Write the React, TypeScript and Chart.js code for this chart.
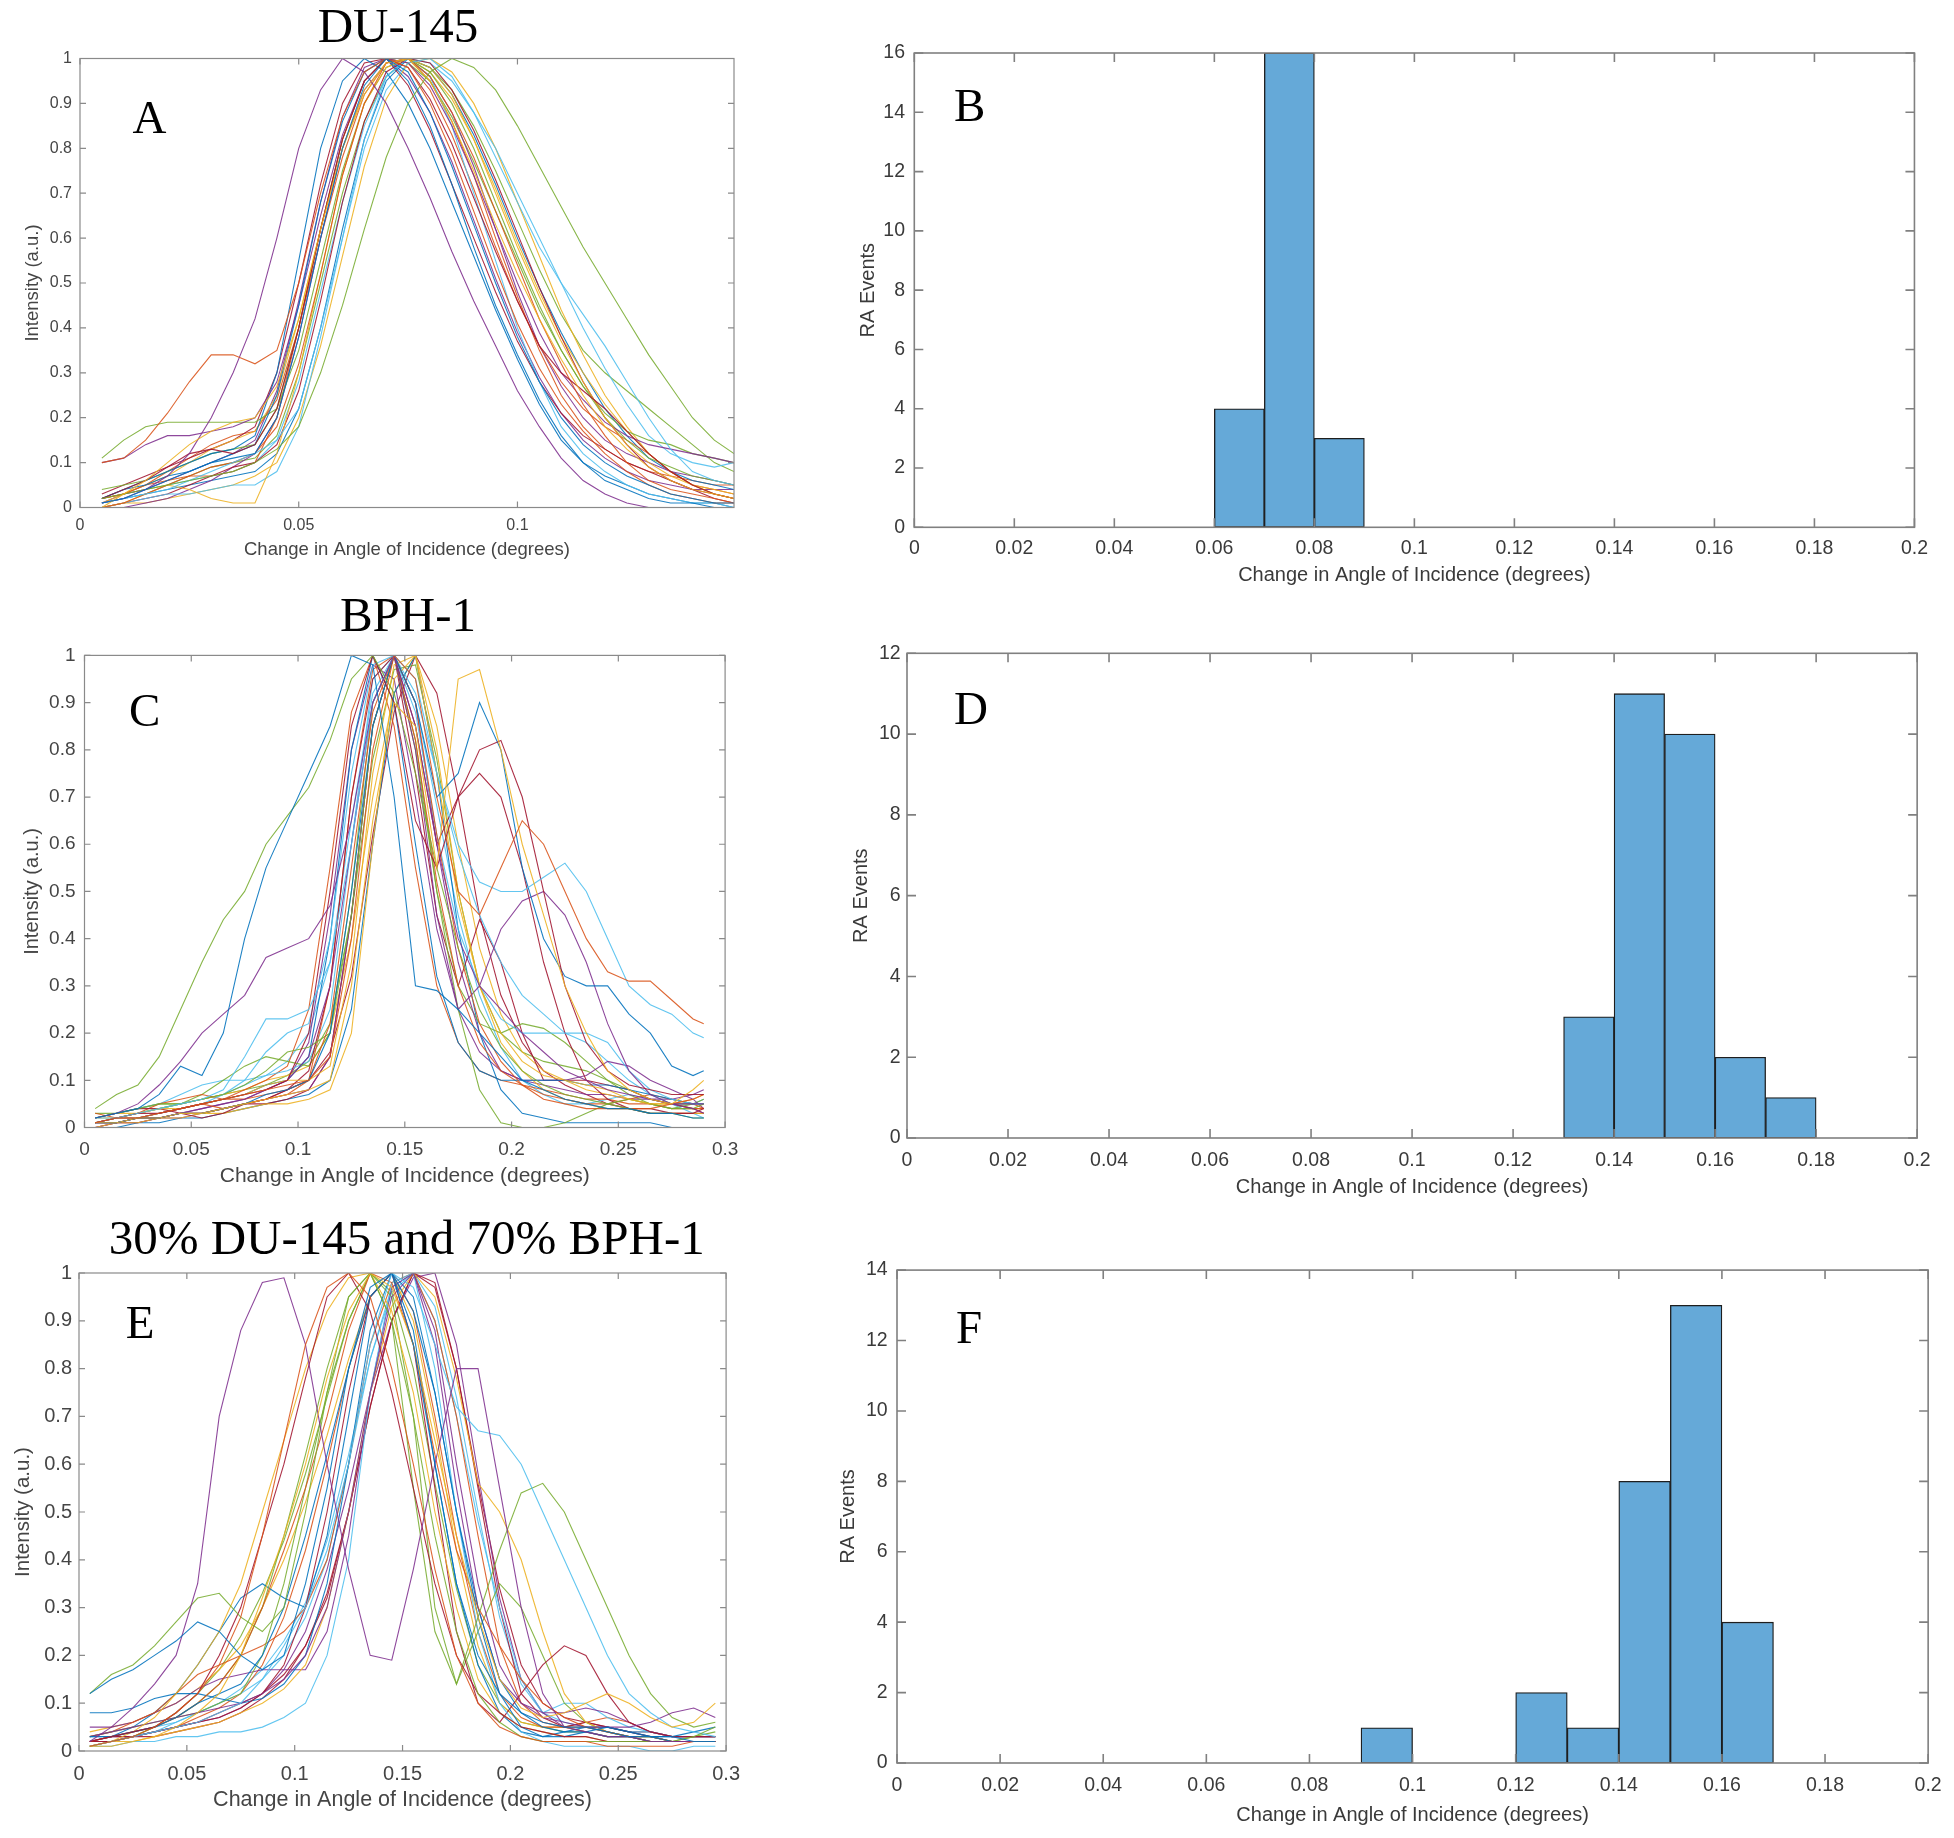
import React, { useEffect, useRef } from 'react';
import { Chart, registerables } from 'chart.js';

Chart.register(...registerables);

const FONT = "'Liberation Sans', Arial, Helvetica, sans-serif";
const SERIF = "'Liberation Serif', 'Times New Roman', serif";
const MATLAB_COLORS = ['#0072BD', '#D95319', '#EDB120', '#7E2F8E', '#77AC30', '#4DBEEE', '#A2142F'];
const X_LABEL = 'Change in Angle of Incidence (degrees)';

// ---------------- Panel A (DU-145) ----------------
const duX = [0.005, 0.01, 0.015, 0.02, 0.025, 0.03, 0.035, 0.04, 0.045, 0.05, 0.055, 0.06, 0.065, 0.07, 0.075, 0.08, 0.085, 0.09, 0.095, 0.1, 0.105, 0.11, 0.115, 0.12, 0.125, 0.13, 0.135, 0.14, 0.145, 0.1495];
const duCurves: number[][] = [
  [0.01, 0.02, 0.04, 0.06, 0.08, 0.1, 0.11, 0.12, 0.2, 0.38, 0.6, 0.8, 0.94, 1.0, 0.97, 0.88, 0.76, 0.63, 0.5, 0.38, 0.28, 0.2, 0.14, 0.1, 0.07, 0.05, 0.03, 0.02, 0.01, 0.01],
  [0.1, 0.11, 0.15, 0.21, 0.28, 0.34, 0.34, 0.32, 0.35, 0.5, 0.7, 0.87, 0.97, 1.0, 0.98, 0.9, 0.79, 0.66, 0.53, 0.41, 0.31, 0.23, 0.17, 0.12, 0.08, 0.05, 0.03, 0.02, 0.01, 0.01],
  [0.0, 0.03, 0.06, 0.1, 0.14, 0.17, 0.19, 0.2, 0.27, 0.42, 0.62, 0.8, 0.93, 0.99, 1.0, 0.95, 0.86, 0.75, 0.63, 0.52, 0.42, 0.33, 0.25, 0.18, 0.13, 0.09, 0.06, 0.04, 0.03, 0.02],
  [0.01, 0.02, 0.04, 0.07, 0.12, 0.2, 0.3, 0.42, 0.6, 0.8, 0.93, 1.0, 0.97, 0.9, 0.8, 0.69, 0.57, 0.46, 0.36, 0.26, 0.18, 0.11, 0.06, 0.03, 0.01, 0.0, 0.0, 0.0, 0.0, 0.0],
  [0.02, 0.03, 0.04, 0.05, 0.06, 0.07, 0.08, 0.1, 0.13, 0.18, 0.3, 0.45, 0.62, 0.78, 0.9, 0.97, 1.0, 0.98, 0.93, 0.85, 0.76, 0.67, 0.58, 0.5, 0.42, 0.34, 0.27, 0.2, 0.15, 0.12],
  [0.01, 0.02, 0.03, 0.04, 0.06, 0.08, 0.1, 0.12, 0.15, 0.22, 0.4, 0.6, 0.8, 0.93, 0.99, 1.0, 0.96, 0.88, 0.78, 0.68, 0.58, 0.5, 0.43, 0.36, 0.28, 0.2, 0.13, 0.08, 0.06, 0.05],
  [0.02, 0.04, 0.06, 0.09, 0.12, 0.13, 0.12, 0.14, 0.22, 0.4, 0.62, 0.82, 0.95, 1.0, 0.98, 0.91, 0.81, 0.69, 0.57, 0.46, 0.36, 0.3, 0.26, 0.22, 0.17, 0.12, 0.08, 0.05, 0.03, 0.02],
  [0.02, 0.04, 0.05, 0.07, 0.08, 0.1, 0.12, 0.14, 0.25, 0.45, 0.68, 0.86, 0.97, 1.0, 0.95, 0.85, 0.72, 0.58, 0.45, 0.34, 0.24, 0.16, 0.1, 0.06, 0.04, 0.02, 0.01, 0.01, 0.0, 0.0],
  [0.0, 0.01, 0.03, 0.05, 0.07, 0.09, 0.1, 0.12, 0.18, 0.32, 0.52, 0.74, 0.9, 0.99, 1.0, 0.96, 0.88, 0.78, 0.66, 0.54, 0.42, 0.32, 0.23, 0.16, 0.1, 0.06, 0.04, 0.03, 0.02, 0.01],
  [0.0, 0.01, 0.03, 0.05, 0.04, 0.02, 0.01, 0.01, 0.12, 0.3, 0.52, 0.74, 0.9, 0.98, 1.0, 0.98, 0.92, 0.82, 0.7, 0.58, 0.47, 0.37, 0.28, 0.2, 0.14, 0.1, 0.07, 0.05, 0.04, 0.03],
  [0.1, 0.11, 0.14, 0.16, 0.16, 0.17, 0.18, 0.2, 0.28, 0.45, 0.65, 0.83, 0.95, 1.0, 0.99, 0.94, 0.85, 0.74, 0.62, 0.5, 0.39, 0.3, 0.24, 0.19, 0.16, 0.14, 0.13, 0.12, 0.11, 0.1],
  [0.11, 0.15, 0.18, 0.19, 0.19, 0.19, 0.19, 0.19, 0.22, 0.35, 0.55, 0.75, 0.9, 0.98, 1.0, 0.97, 0.9, 0.8, 0.68, 0.56, 0.45, 0.35, 0.27, 0.2, 0.15, 0.11, 0.09, 0.07, 0.06, 0.05],
  [0.0, 0.01, 0.02, 0.03, 0.03, 0.04, 0.05, 0.05, 0.08, 0.18, 0.38, 0.6, 0.82, 0.96, 1.0, 0.96, 0.85, 0.7, 0.55, 0.4, 0.28, 0.18, 0.12, 0.08, 0.05, 0.03, 0.02, 0.01, 0.01, 0.0],
  [0.0, 0.01, 0.02, 0.03, 0.05, 0.07, 0.09, 0.1, 0.14, 0.26, 0.46, 0.68, 0.86, 0.97, 1.0, 0.99, 0.93, 0.84, 0.73, 0.61, 0.49, 0.38, 0.28, 0.2, 0.14, 0.09, 0.06, 0.04, 0.02, 0.01],
  [0.02, 0.04, 0.06, 0.08, 0.1, 0.12, 0.13, 0.16, 0.3, 0.55, 0.8, 0.95, 1.0, 0.97, 0.9, 0.8, 0.68, 0.56, 0.44, 0.33, 0.23, 0.15, 0.1, 0.07, 0.05, 0.03, 0.02, 0.01, 0.01, 0.0],
  [0.02, 0.03, 0.05, 0.06, 0.07, 0.07, 0.08, 0.1, 0.2, 0.4, 0.62, 0.82, 0.95, 1.0, 0.99, 0.93, 0.83, 0.71, 0.58, 0.46, 0.36, 0.28, 0.22, 0.18, 0.15, 0.12, 0.08, 0.05, 0.04, 0.03],
  [0.01, 0.03, 0.05, 0.07, 0.1, 0.13, 0.15, 0.17, 0.25, 0.42, 0.62, 0.8, 0.92, 0.99, 1.0, 0.97, 0.91, 0.82, 0.71, 0.59, 0.48, 0.38, 0.3, 0.23, 0.17, 0.12, 0.08, 0.05, 0.03, 0.02],
  [0.0, 0.0, 0.01, 0.02, 0.04, 0.06, 0.09, 0.12, 0.2, 0.38, 0.6, 0.8, 0.93, 0.99, 1.0, 0.96, 0.88, 0.76, 0.62, 0.48, 0.36, 0.27, 0.2, 0.15, 0.12, 0.1, 0.08, 0.07, 0.06, 0.05],
  [0.04, 0.05, 0.06, 0.08, 0.1, 0.12, 0.13, 0.14, 0.22, 0.4, 0.62, 0.82, 0.95, 1.0, 0.99, 0.95, 0.87, 0.77, 0.66, 0.55, 0.44, 0.35, 0.27, 0.21, 0.17, 0.15, 0.14, 0.12, 0.11, 0.1],
  [0.01, 0.02, 0.03, 0.05, 0.06, 0.07, 0.08, 0.1, 0.15, 0.28, 0.48, 0.68, 0.85, 0.96, 1.0, 0.99, 0.95, 0.88, 0.8, 0.7, 0.6, 0.5, 0.4, 0.31, 0.23, 0.16, 0.12, 0.1, 0.09, 0.1],
  [0.03, 0.05, 0.07, 0.09, 0.11, 0.13, 0.15, 0.18, 0.3, 0.5, 0.72, 0.9, 0.99, 1.0, 0.94, 0.84, 0.72, 0.6, 0.48, 0.37, 0.28, 0.21, 0.16, 0.13, 0.1, 0.08, 0.06, 0.04, 0.03, 0.02],
  [0.01, 0.02, 0.03, 0.04, 0.05, 0.06, 0.07, 0.08, 0.12, 0.22, 0.4, 0.62, 0.82, 0.95, 1.0, 0.98, 0.92, 0.83, 0.72, 0.6, 0.49, 0.39, 0.3, 0.22, 0.16, 0.11, 0.08, 0.06, 0.05, 0.04],
  [0.02, 0.03, 0.05, 0.08, 0.11, 0.14, 0.16, 0.17, 0.24, 0.4, 0.6, 0.78, 0.92, 0.99, 1.0, 0.95, 0.86, 0.74, 0.6, 0.47, 0.35, 0.25, 0.18, 0.13, 0.1, 0.08, 0.07, 0.06, 0.05, 0.05],
  [0.0, 0.01, 0.01, 0.02, 0.03, 0.04, 0.05, 0.07, 0.1, 0.2, 0.36, 0.56, 0.76, 0.91, 0.99, 1.0, 0.97, 0.9, 0.8, 0.68, 0.56, 0.44, 0.34, 0.25, 0.18, 0.12, 0.08, 0.05, 0.03, 0.02],
  [0.01, 0.03, 0.04, 0.06, 0.08, 0.1, 0.12, 0.15, 0.26, 0.46, 0.68, 0.87, 0.98, 1.0, 0.96, 0.88, 0.77, 0.64, 0.51, 0.39, 0.29, 0.21, 0.15, 0.11, 0.08, 0.06, 0.05, 0.04, 0.04, 0.04],
  [0.02, 0.03, 0.04, 0.05, 0.07, 0.09, 0.1, 0.11, 0.16, 0.3, 0.5, 0.7, 0.86, 0.96, 1.0, 0.98, 0.93, 0.85, 0.75, 0.64, 0.53, 0.43, 0.35, 0.3, 0.26, 0.22, 0.18, 0.14, 0.1, 0.08],
];

// ---------------- Panel C (BPH-1) ----------------
const bphX = [0.005, 0.015, 0.025, 0.035, 0.045, 0.055, 0.065, 0.075, 0.085, 0.095, 0.105, 0.115, 0.125, 0.135, 0.145, 0.155, 0.165, 0.175, 0.185, 0.195, 0.205, 0.215, 0.225, 0.235, 0.245, 0.255, 0.265, 0.275, 0.285, 0.29];
const bphCurves: number[][] = [
  [0.02, 0.03, 0.04, 0.07, 0.13, 0.11, 0.2, 0.4, 0.55, 0.65, 0.75, 0.85, 1.0, 0.98, 0.7, 0.3, 0.29, 0.25, 0.2, 0.15, 0.1, 0.08, 0.06, 0.05, 0.04, 0.04, 0.03, 0.03, 0.02, 0.02],
  [0.01, 0.02, 0.02, 0.03, 0.04, 0.05, 0.06, 0.07, 0.08, 0.09, 0.1, 0.15, 0.4, 0.8, 1.0, 0.95, 0.7, 0.5, 0.45, 0.55, 0.65, 0.6, 0.5, 0.4, 0.33, 0.31, 0.31, 0.27, 0.23, 0.22],
  [0.01, 0.01, 0.02, 0.02, 0.03, 0.03, 0.04, 0.05, 0.06, 0.07, 0.08, 0.1, 0.3, 0.65, 0.9, 0.85, 0.55, 0.95, 0.97, 0.8, 0.6, 0.45, 0.3, 0.2, 0.12, 0.08, 0.06, 0.05, 0.08, 0.1],
  [0.02, 0.03, 0.05, 0.09, 0.14, 0.2, 0.24, 0.28, 0.36, 0.38, 0.4, 0.47, 0.65, 0.9, 1.0, 0.85, 0.6, 0.4, 0.3, 0.25, 0.2, 0.16, 0.12, 0.1, 0.08, 0.07, 0.06, 0.05, 0.05, 0.05],
  [0.04, 0.07, 0.09, 0.15, 0.25, 0.35, 0.44, 0.5, 0.6, 0.66, 0.72, 0.82, 0.95, 1.0, 0.92, 0.75, 0.55, 0.38, 0.25, 0.17, 0.12, 0.09, 0.07, 0.06, 0.05, 0.04, 0.03, 0.03, 0.02, 0.02],
  [0.02, 0.02, 0.03, 0.04, 0.05, 0.06, 0.08, 0.15, 0.23, 0.23, 0.25, 0.35, 0.6, 0.9, 1.0, 0.95, 0.75, 0.6, 0.52, 0.5, 0.5, 0.53, 0.56, 0.5, 0.4, 0.3, 0.26, 0.24, 0.2, 0.19],
  [0.01, 0.02, 0.03, 0.03, 0.04, 0.05, 0.06, 0.07, 0.08, 0.1, 0.2, 0.5, 0.85, 1.0, 0.9, 0.65, 0.55, 0.7, 0.8, 0.82, 0.7, 0.5, 0.3, 0.18, 0.12, 0.09, 0.08, 0.07, 0.07, 0.07],
  [0.01, 0.01, 0.02, 0.02, 0.03, 0.03, 0.04, 0.05, 0.07, 0.08, 0.1, 0.2, 0.5, 0.85, 1.0, 0.9, 0.7, 0.75, 0.9, 0.8, 0.55, 0.4, 0.32, 0.3, 0.3, 0.24, 0.2, 0.13, 0.11, 0.12],
  [0.03, 0.02, 0.02, 0.03, 0.04, 0.05, 0.04, 0.05, 0.06, 0.07, 0.1, 0.22, 0.55, 0.88, 1.0, 0.9, 0.62, 0.38, 0.22, 0.14, 0.09, 0.06, 0.05, 0.04, 0.04, 0.04, 0.04, 0.05, 0.06, 0.07],
  [0.02, 0.02, 0.03, 0.04, 0.04, 0.05, 0.06, 0.07, 0.09, 0.1, 0.1, 0.13, 0.35, 0.75, 0.98, 1.0, 0.75, 0.48, 0.3, 0.2, 0.14, 0.11, 0.1, 0.09, 0.08, 0.06, 0.05, 0.05, 0.06, 0.07],
  [0.01, 0.01, 0.02, 0.02, 0.03, 0.04, 0.05, 0.06, 0.08, 0.1, 0.15, 0.3, 0.6, 0.9, 1.0, 0.8, 0.45, 0.25, 0.3, 0.42, 0.48, 0.5, 0.45, 0.35, 0.22, 0.12, 0.07, 0.05, 0.04, 0.03],
  [0.02, 0.03, 0.04, 0.05, 0.05, 0.06, 0.07, 0.09, 0.12, 0.16, 0.17, 0.2, 0.45, 0.85, 1.0, 0.8, 0.5, 0.25, 0.08, 0.01, 0.0, 0.0, 0.01, 0.03, 0.05, 0.06, 0.05, 0.04, 0.04, 0.05],
  [0.01, 0.02, 0.02, 0.03, 0.04, 0.05, 0.07, 0.1, 0.16, 0.2, 0.22, 0.4, 0.75, 0.98, 1.0, 0.88, 0.62, 0.42, 0.3, 0.23, 0.2, 0.2, 0.2, 0.2, 0.18, 0.12, 0.08, 0.06, 0.05, 0.05],
  [0.02, 0.03, 0.04, 0.04, 0.03, 0.02, 0.03, 0.05, 0.06, 0.08, 0.12, 0.3, 0.7, 0.95, 1.0, 0.85, 0.6, 0.7, 0.75, 0.7, 0.55, 0.35, 0.2, 0.1, 0.06, 0.04, 0.03, 0.03, 0.03, 0.04],
  [0.01, 0.01, 0.02, 0.03, 0.04, 0.05, 0.06, 0.07, 0.09, 0.1, 0.15, 0.4, 0.8, 1.0, 0.9, 0.6, 0.32, 0.18, 0.12, 0.1, 0.1, 0.1, 0.1, 0.09, 0.09, 0.08, 0.07, 0.06, 0.05, 0.05],
  [0.01, 0.02, 0.03, 0.05, 0.06, 0.07, 0.06, 0.06, 0.07, 0.08, 0.1, 0.3, 0.7, 0.97, 1.0, 0.82, 0.52, 0.3, 0.18, 0.12, 0.09, 0.07, 0.06, 0.05, 0.05, 0.06, 0.07, 0.06, 0.05, 0.04],
  [0.0, 0.01, 0.01, 0.02, 0.02, 0.03, 0.03, 0.04, 0.05, 0.05, 0.06, 0.08, 0.2, 0.6, 0.95, 1.0, 0.8, 0.5, 0.3, 0.18, 0.12, 0.08, 0.06, 0.05, 0.04, 0.04, 0.03, 0.03, 0.03, 0.03],
  [0.0, 0.01, 0.01, 0.02, 0.02, 0.03, 0.04, 0.05, 0.06, 0.07, 0.08, 0.15, 0.45, 0.85, 1.0, 0.9, 0.6, 0.35, 0.2, 0.12, 0.1, 0.1, 0.1, 0.11, 0.14, 0.13, 0.1, 0.08, 0.06, 0.04],
  [0.01, 0.02, 0.03, 0.04, 0.05, 0.07, 0.1, 0.13, 0.15, 0.14, 0.13, 0.2, 0.5, 0.9, 1.0, 0.82, 0.5, 0.3, 0.22, 0.2, 0.22, 0.21, 0.18, 0.14, 0.1, 0.07, 0.05, 0.04, 0.05, 0.06],
  [0.02, 0.03, 0.04, 0.05, 0.07, 0.09, 0.1, 0.1, 0.11, 0.12, 0.14, 0.25, 0.6, 0.95, 1.0, 0.92, 0.75, 0.58, 0.45, 0.35, 0.28, 0.24, 0.2, 0.18, 0.14, 0.1, 0.07, 0.05, 0.03, 0.02],
  [0.01, 0.01, 0.02, 0.02, 0.03, 0.03, 0.04, 0.05, 0.05, 0.06, 0.08, 0.15, 0.45, 0.85, 1.0, 0.75, 0.45, 0.3, 0.44, 0.35, 0.2, 0.1, 0.1, 0.1, 0.09, 0.08, 0.06, 0.05, 0.04, 0.03],
  [0.0, 0.0, 0.01, 0.01, 0.02, 0.02, 0.03, 0.04, 0.05, 0.06, 0.07, 0.1, 0.25, 0.6, 0.92, 1.0, 0.75, 0.42, 0.2, 0.08, 0.03, 0.02, 0.01, 0.01, 0.01, 0.01, 0.01, 0.0, 0.0, 0.0],
  [0.01, 0.02, 0.02, 0.03, 0.04, 0.05, 0.06, 0.08, 0.1, 0.13, 0.25, 0.55, 0.88, 1.0, 0.85, 0.55, 0.3, 0.18, 0.12, 0.1, 0.09, 0.08, 0.07, 0.06, 0.06, 0.05, 0.05, 0.04, 0.04, 0.04],
  [0.02, 0.03, 0.03, 0.04, 0.05, 0.06, 0.07, 0.08, 0.1, 0.11, 0.13, 0.2, 0.4, 0.7, 0.92, 1.0, 0.85, 0.6, 0.38, 0.24, 0.16, 0.12, 0.1, 0.08, 0.07, 0.06, 0.05, 0.05, 0.04, 0.04],
  [0.01, 0.01, 0.02, 0.02, 0.03, 0.04, 0.05, 0.06, 0.08, 0.1, 0.18, 0.45, 0.8, 0.98, 0.95, 0.7, 0.42, 0.25, 0.16, 0.12, 0.1, 0.09, 0.08, 0.07, 0.07, 0.06, 0.06, 0.06, 0.07, 0.08],
  [0.03, 0.03, 0.04, 0.05, 0.05, 0.06, 0.07, 0.08, 0.09, 0.11, 0.14, 0.22, 0.45, 0.78, 0.97, 0.98, 0.78, 0.5, 0.3, 0.2, 0.16, 0.14, 0.13, 0.12, 0.1, 0.08, 0.06, 0.05, 0.05, 0.05],
  [0.01, 0.02, 0.03, 0.04, 0.05, 0.06, 0.07, 0.09, 0.11, 0.14, 0.2, 0.35, 0.65, 0.92, 1.0, 0.9, 0.68, 0.45, 0.28, 0.17, 0.1, 0.07, 0.05, 0.05, 0.06, 0.07, 0.06, 0.05, 0.05, 0.06],
  [0.0, 0.01, 0.01, 0.02, 0.03, 0.03, 0.04, 0.05, 0.06, 0.08, 0.1, 0.16, 0.32, 0.62, 0.88, 1.0, 0.92, 0.7, 0.45, 0.28, 0.18, 0.12, 0.09, 0.07, 0.05, 0.04, 0.04, 0.03, 0.03, 0.03],
];

// ---------------- Panel E (30% DU-145 / 70% BPH-1) ----------------
const mixX = [0.005, 0.015, 0.025, 0.035, 0.045, 0.055, 0.065, 0.075, 0.085, 0.095, 0.105, 0.115, 0.125, 0.135, 0.145, 0.155, 0.165, 0.175, 0.185, 0.195, 0.205, 0.215, 0.225, 0.235, 0.245, 0.255, 0.265, 0.275, 0.285, 0.295];
const mixCurves: number[][] = [
  [0.12, 0.15, 0.17, 0.2, 0.23, 0.27, 0.25, 0.2, 0.17, 0.2, 0.35, 0.55, 0.8, 0.97, 1.0, 0.85, 0.6, 0.35, 0.2, 0.12, 0.08, 0.06, 0.05, 0.05, 0.04, 0.03, 0.03, 0.03, 0.02, 0.02],
  [0.01, 0.02, 0.03, 0.05, 0.08, 0.12, 0.18, 0.28, 0.45, 0.65, 0.85, 0.97, 1.0, 0.95, 0.8, 0.6, 0.38, 0.2, 0.1, 0.05, 0.03, 0.02, 0.02, 0.02, 0.01, 0.01, 0.01, 0.01, 0.02, 0.02],
  [0.01, 0.01, 0.02, 0.03, 0.05, 0.08, 0.12, 0.2, 0.32, 0.45, 0.6, 0.78, 0.92, 1.0, 0.97, 0.85, 0.65, 0.45, 0.28, 0.15, 0.09, 0.07, 0.08, 0.1, 0.12, 0.1, 0.07, 0.05, 0.06, 0.1],
  [0.02, 0.05, 0.09, 0.14, 0.2, 0.35, 0.7, 0.88, 0.98, 0.99, 0.85, 0.6, 0.38, 0.2, 0.19, 0.38, 0.6, 0.8, 0.8, 0.55, 0.3, 0.12, 0.05, 0.04, 0.03, 0.03, 0.02, 0.02, 0.02, 0.02],
  [0.12, 0.16, 0.18, 0.22, 0.27, 0.32, 0.33, 0.28, 0.25, 0.3, 0.5, 0.75, 0.95, 1.0, 0.9, 0.7, 0.45, 0.25, 0.12, 0.06, 0.03, 0.02, 0.02, 0.02, 0.02, 0.02, 0.02, 0.02, 0.03, 0.05],
  [0.01, 0.02, 0.03, 0.04, 0.05, 0.06, 0.08, 0.1, 0.15, 0.22, 0.3, 0.42, 0.6, 0.85, 1.0, 0.97, 0.85, 0.72, 0.67, 0.66, 0.6, 0.5, 0.4, 0.3, 0.2, 0.12, 0.08, 0.05, 0.04, 0.03],
  [0.02, 0.03, 0.04, 0.05, 0.08, 0.12, 0.2, 0.3, 0.45, 0.6, 0.78, 0.95, 1.0, 0.92, 0.75, 0.55, 0.35, 0.2, 0.12, 0.08, 0.05, 0.04, 0.03, 0.03, 0.02, 0.02, 0.02, 0.02, 0.02, 0.02],
  [0.03, 0.03, 0.04, 0.05, 0.07, 0.1, 0.12, 0.14, 0.2, 0.3, 0.45, 0.62, 0.8, 0.95, 1.0, 0.92, 0.75, 0.5, 0.28, 0.12, 0.05, 0.03, 0.03, 0.04, 0.05, 0.04, 0.03, 0.02, 0.02, 0.02],
  [0.02, 0.03, 0.04, 0.05, 0.07, 0.1, 0.14, 0.2, 0.3, 0.42, 0.55, 0.7, 0.88, 1.0, 0.98, 0.85, 0.62, 0.42, 0.3, 0.22, 0.15, 0.1, 0.07, 0.05, 0.04, 0.03, 0.03, 0.02, 0.02, 0.02],
  [0.01, 0.02, 0.04, 0.07, 0.12, 0.18, 0.25, 0.35, 0.5, 0.65, 0.8, 0.92, 0.99, 1.0, 0.92, 0.75, 0.5, 0.3, 0.15, 0.08, 0.05, 0.04, 0.03, 0.03, 0.02, 0.02, 0.02, 0.02, 0.02, 0.02],
  [0.03, 0.04, 0.05, 0.06, 0.07, 0.08, 0.09, 0.1, 0.12, 0.15, 0.2, 0.3, 0.5, 0.75, 0.95, 1.0, 0.88, 0.6, 0.35, 0.18, 0.1, 0.07, 0.06, 0.05, 0.05, 0.05, 0.06, 0.08, 0.09, 0.07],
  [0.03, 0.04, 0.05, 0.06, 0.07, 0.08, 0.1, 0.12, 0.2, 0.35, 0.55, 0.75, 0.9, 1.0, 0.95, 0.7, 0.3, 0.14, 0.28, 0.42, 0.54, 0.56, 0.5, 0.4, 0.3, 0.2, 0.12, 0.07, 0.05, 0.06],
  [0.01, 0.01, 0.02, 0.02, 0.03, 0.03, 0.04, 0.04, 0.05, 0.07, 0.1, 0.2, 0.4, 0.75, 0.98, 1.0, 0.8, 0.5, 0.25, 0.1, 0.04, 0.02, 0.01, 0.01, 0.01, 0.01, 0.0, 0.0, 0.01, 0.01],
  [0.02, 0.03, 0.03, 0.04, 0.05, 0.06, 0.07, 0.09, 0.12, 0.18, 0.3, 0.5, 0.75, 0.95, 1.0, 0.85, 0.55, 0.25, 0.1, 0.06, 0.12, 0.18, 0.22, 0.2, 0.12, 0.06, 0.04, 0.03, 0.03, 0.03],
  [0.08, 0.08, 0.09, 0.11, 0.12, 0.12, 0.11, 0.1, 0.11, 0.14, 0.2, 0.35, 0.6, 0.88, 1.0, 0.95, 0.75, 0.5, 0.3, 0.15, 0.08, 0.05, 0.04, 0.04, 0.03, 0.03, 0.02, 0.02, 0.02, 0.02],
  [0.03, 0.04, 0.06, 0.08, 0.12, 0.16, 0.18, 0.2, 0.22, 0.25, 0.3, 0.4, 0.6, 0.85, 0.98, 1.0, 0.9, 0.7, 0.45, 0.22, 0.1, 0.06, 0.05, 0.05, 0.04, 0.03, 0.02, 0.02, 0.02, 0.02],
  [0.01, 0.02, 0.02, 0.03, 0.04, 0.05, 0.06, 0.08, 0.1, 0.13, 0.18, 0.3, 0.5, 0.75, 0.93, 1.0, 0.95, 0.78, 0.56, 0.5, 0.4, 0.25, 0.12, 0.06, 0.04, 0.03, 0.02, 0.02, 0.02, 0.02],
  [0.05, 0.05, 0.06, 0.08, 0.1, 0.13, 0.15, 0.16, 0.17, 0.17, 0.17, 0.25, 0.45, 0.75, 0.97, 1.0, 0.85, 0.55, 0.3, 0.15, 0.1, 0.08, 0.08, 0.09, 0.08, 0.06, 0.04, 0.03, 0.03, 0.03],
  [0.01, 0.02, 0.03, 0.05, 0.07, 0.1, 0.14, 0.2, 0.3, 0.45, 0.62, 0.8, 0.95, 1.0, 0.9, 0.55, 0.25, 0.14, 0.25, 0.35, 0.3, 0.2, 0.1, 0.06, 0.04, 0.03, 0.03, 0.02, 0.03, 0.04],
  [0.01, 0.02, 0.03, 0.04, 0.06, 0.08, 0.1, 0.12, 0.15, 0.2, 0.28, 0.4, 0.6, 0.82, 0.97, 1.0, 0.9, 0.7, 0.48, 0.3, 0.15, 0.08, 0.1, 0.1, 0.07, 0.05, 0.04, 0.03, 0.03, 0.03],
  [0.02, 0.02, 0.03, 0.04, 0.05, 0.06, 0.08, 0.1, 0.12, 0.16, 0.22, 0.32, 0.5, 0.72, 0.9, 1.0, 0.98, 0.8, 0.55, 0.3, 0.12, 0.07, 0.05, 0.06, 0.05, 0.04, 0.03, 0.02, 0.02, 0.02],
  [0.02, 0.03, 0.05, 0.08, 0.12, 0.18, 0.25, 0.32, 0.35, 0.32, 0.3, 0.45, 0.7, 0.95, 1.0, 0.88, 0.6, 0.35, 0.18, 0.08, 0.04, 0.03, 0.04, 0.05, 0.05, 0.04, 0.03, 0.03, 0.04, 0.05],
  [0.01, 0.02, 0.03, 0.04, 0.05, 0.07, 0.09, 0.12, 0.18, 0.28, 0.42, 0.6, 0.8, 0.95, 1.0, 0.92, 0.7, 0.45, 0.25, 0.12, 0.07, 0.05, 0.05, 0.06, 0.07, 0.06, 0.04, 0.03, 0.03, 0.03],
  [0.04, 0.05, 0.06, 0.08, 0.1, 0.13, 0.17, 0.22, 0.3, 0.4, 0.52, 0.66, 0.82, 0.95, 1.0, 0.9, 0.68, 0.42, 0.22, 0.1, 0.06, 0.05, 0.05, 0.04, 0.03, 0.03, 0.02, 0.02, 0.02, 0.02],
  [0.02, 0.03, 0.03, 0.04, 0.05, 0.06, 0.07, 0.09, 0.12, 0.17, 0.25, 0.38, 0.55, 0.75, 0.9, 0.99, 1.0, 0.85, 0.58, 0.32, 0.15, 0.08, 0.05, 0.04, 0.03, 0.03, 0.02, 0.02, 0.02, 0.02],
  [0.01, 0.02, 0.03, 0.05, 0.08, 0.12, 0.17, 0.24, 0.33, 0.44, 0.58, 0.74, 0.9, 1.0, 0.96, 0.8, 0.56, 0.34, 0.18, 0.1, 0.06, 0.05, 0.04, 0.04, 0.03, 0.03, 0.03, 0.02, 0.02, 0.02],
  [0.03, 0.03, 0.04, 0.05, 0.06, 0.08, 0.1, 0.13, 0.17, 0.23, 0.31, 0.44, 0.62, 0.82, 0.96, 1.0, 0.93, 0.74, 0.5, 0.28, 0.14, 0.08, 0.06, 0.05, 0.05, 0.04, 0.04, 0.03, 0.03, 0.03],
  [0.02, 0.02, 0.03, 0.03, 0.04, 0.05, 0.06, 0.08, 0.11, 0.15, 0.22, 0.33, 0.5, 0.72, 0.9, 1.0, 0.97, 0.8, 0.56, 0.34, 0.18, 0.1, 0.07, 0.06, 0.05, 0.04, 0.04, 0.03, 0.03, 0.03],
];

// ---------------- Histograms (bin centres and counts) ----------------
const histBCenters = [0.065, 0.075, 0.085];
const histBCounts = [4, 16, 3];
const histDCenters = [0.135, 0.145, 0.155, 0.165, 0.175];
const histDCounts = [3, 11, 10, 2, 1];
const histFCenters = [0.095, 0.125, 0.135, 0.145, 0.155, 0.165];
const histFCounts = [1, 2, 1, 8, 13, 4];

const fmt = (v: number | string) => String(parseFloat(Number(v).toFixed(4)));

const boxPlugin = {
  id: 'matlabBox',
  afterDatasetsDraw(chart: any, _args: any, opts: any) {
    const { ctx, chartArea } = chart;
    const { left, right, top, bottom } = chartArea;
    const xs = chart.scales.x;
    const ys = chart.scales.y;
    const tl = opts.tickLen;
    ctx.save();
    ctx.strokeStyle = opts.color;
    ctx.lineWidth = opts.lineWidth;
    ctx.beginPath();
    xs.ticks.forEach((t: any) => {
      const px = xs.getPixelForValue(t.value);
      ctx.moveTo(px, bottom);
      ctx.lineTo(px, bottom - tl);
      ctx.moveTo(px, top);
      ctx.lineTo(px, top + tl);
    });
    ys.ticks.forEach((t: any) => {
      const py = ys.getPixelForValue(t.value);
      ctx.moveTo(left, py);
      ctx.lineTo(left + tl, py);
      ctx.moveTo(right, py);
      ctx.lineTo(right - tl, py);
    });
    ctx.stroke();
    ctx.strokeRect(left, top, right - left, bottom - top);
    ctx.restore();
  },
};

type Rect = { l: number; r: number; t: number; b: number };
type PanelSpec = {
  kind: 'line' | 'hist';
  plot: Rect;
  xMax: number;
  xStep: number;
  yMax: number;
  yStep: number;
  tickFont: number;
  xLabelFont: number;
  yLabelFont: number;
  yLabel: string;
  yLabelX: number;
  xLabelY: number;
  xTickY: number;
  yTickRight: number;
  tickLen: number;
  boxColor: string;
  boxWidth: number;
  textColor: string;
  datasets: any[];
};

const lineSets = (xs: number[], curves: number[][]) =>
  curves.map((c, i) => ({
    data: xs.map((x, j) => ({ x, y: c[j] })),
    borderColor: MATLAB_COLORS[i % MATLAB_COLORS.length] + 'E0',
    borderWidth: 1.1,
    pointRadius: 0,
    fill: false,
    tension: 0,
  }));

const histSets = (centers: number[], counts: number[]) => [
  {
    data: centers.map((x, j) => ({ x, y: counts[j] })),
    backgroundColor: '#65A9D8',
    borderColor: '#1e1e1e',
    borderWidth: 1.3,
    borderSkipped: false,
    barPercentage: 1,
    categoryPercentage: 1,
  },
];

const lineCommon = {
  kind: 'line' as const,
  xStep: 0.05,
  yMax: 1,
  yStep: 0.1,
  yLabel: 'Intensity (a.u.)',
  tickLen: 6,
  boxColor: '#8a8a8a',
  boxWidth: 1.2,
  textColor: '#454545',
};

const histCommon = {
  kind: 'hist' as const,
  xMax: 0.2,
  xStep: 0.02,
  yStep: 2,
  tickFont: 19.5,
  xLabelFont: 20,
  yLabelFont: 20,
  yLabel: 'RA Events',
  tickLen: 9,
  boxColor: '#808080',
  boxWidth: 1.6,
  textColor: '#3a3a3a',
};

const panels: PanelSpec[] = [
  { ...lineCommon, plot: { l: 80, r: 734, t: 58.5, b: 507.5 }, xMax: 0.1495, tickFont: 16, xLabelFont: 18.5, yLabelFont: 18.5,
    yLabelX: 33, xLabelY: 550, xTickY: 526, yTickRight: 72, datasets: lineSets(duX, duCurves) },
  { ...lineCommon, plot: { l: 84.5, r: 726.5, t: 653.5, b: 1127.5 }, xMax: 0.3, tickFont: 19, xLabelFont: 21, yLabelFont: 20,
    yLabelX: 32, xLabelY: 1176.5, xTickY: 1149.6, yTickRight: 75.5, datasets: lineSets(bphX, bphCurves) },
  { ...lineCommon, plot: { l: 79, r: 729, t: 1272, b: 1751 }, xMax: 0.3, tickFont: 20, xLabelFont: 21.5, yLabelFont: 20.5,
    yLabelX: 23.5, xLabelY: 1800, xTickY: 1774, yTickRight: 72, datasets: lineSets(mixX, mixCurves) },
  { ...histCommon, plot: { l: 914.3, r: 1916, t: 50, b: 527.3 }, yMax: 16,
    yLabelX: 868.6, xLabelY: 575, xTickY: 549, yTickRight: 905, datasets: histSets(histBCenters, histBCounts) },
  { ...histCommon, plot: { l: 907, r: 1920, t: 653.3, b: 1138 }, yMax: 12,
    yLabelX: 861, xLabelY: 1187, xTickY: 1161, yTickRight: 900.7, datasets: histSets(histDCenters, histDCounts) },
  { ...histCommon, plot: { l: 897, r: 1931, t: 1267.6, b: 1763 }, yMax: 14,
    yLabelX: 848, xLabelY: 1815, xTickY: 1786, yTickRight: 887.6, datasets: histSets(histFCenters, histFCounts) },
];

function ChartPanel({ p }: { p: PanelSpec }) {
  const ref = useRef<HTMLCanvasElement | null>(null);
  const cl = Math.floor(Math.max(0, p.yLabelX - 22));
  const ct = Math.floor(p.plot.t - 18);
  const cr = Math.min(1954, Math.ceil(p.plot.r + 22));
  const cb = Math.ceil(p.xLabelY + 22);
  const W = cr - cl;
  const H = cb - ct;

  useEffect(() => {
    if (!ref.current) return;
    const tLh = p.tickFont * 1.2;
    const xLh = p.xLabelFont * 1.2;
    const yLh = p.yLabelFont * 1.2;
    const tickFont = { family: FONT, size: p.tickFont, lineHeight: 1.2 };
    const cfg: any = {
      type: p.kind === 'hist' ? 'bar' : 'line',
      data: { datasets: p.datasets },
      options: {
        responsive: false,
        maintainAspectRatio: false,
        animation: false,
        devicePixelRatio: 1,
        events: [],
        layout: { padding: { left: 0, top: p.plot.t - ct, right: cr - p.plot.r, bottom: 0 } },
        plugins: {
          legend: { display: false },
          tooltip: { enabled: false },
          matlabBox: { tickLen: p.tickLen, color: p.boxColor, lineWidth: p.boxWidth },
        },
        scales: {
          x: {
            type: 'linear',
            min: 0,
            max: p.xMax,
            bounds: 'data',
            offset: false,
            grid: { display: false, drawTicks: false },
            border: { display: false },
            ticks: {
              stepSize: p.xStep,
              includeBounds: false,
              autoSkip: false,
              maxRotation: 0,
              minRotation: 0,
              padding: p.xTickY - p.plot.b - tLh / 2,
              color: p.textColor,
              font: tickFont,
              callback: fmt,
            },
            title: {
              display: true,
              text: X_LABEL,
              color: p.textColor,
              font: { family: FONT, size: p.xLabelFont, lineHeight: 1.2 },
              padding: { top: 0, bottom: cb - p.xLabelY - xLh / 2 },
            },
            afterFit: (s: any) => {
              s.height = cb - p.plot.b;
            },
          },
          y: {
            type: 'linear',
            min: 0,
            max: p.yMax,
            bounds: 'data',
            grid: { display: false, drawTicks: false },
            border: { display: false },
            ticks: {
              stepSize: p.yStep,
              includeBounds: false,
              autoSkip: false,
              padding: p.plot.l - p.yTickRight,
              color: p.textColor,
              font: tickFont,
              callback: fmt,
            },
            title: {
              display: true,
              text: p.yLabel,
              color: p.textColor,
              font: { family: FONT, size: p.yLabelFont, lineHeight: 1.2 },
              padding: { top: p.yLabelX - cl - yLh / 2, bottom: 0 },
            },
            afterFit: (s: any) => {
              s.width = p.plot.l - cl;
            },
          },
        },
      },
      plugins: [boxPlugin],
    };
    const chart = new Chart(ref.current, cfg);
    return () => chart.destroy();
  }, []);

  return (
    <canvas
      ref={ref}
      width={W}
      height={H}
      style={{ position: 'absolute', left: cl, top: ct, width: W, height: H }}
    />
  );
}

type TextItem = { text: string; x: number; baseline: number; size: number; center?: boolean };

const titles: TextItem[] = [
  { text: 'DU-145', x: 398, baseline: 42, size: 49, center: true },
  { text: 'BPH-1', x: 408, baseline: 631.5, size: 49, center: true },
  { text: '30% DU-145 and 70% BPH-1', x: 406.7, baseline: 1253.7, size: 49, center: true },
  { text: 'A', x: 132.5, baseline: 133, size: 47 },
  { text: 'B', x: 954, baseline: 121, size: 47 },
  { text: 'C', x: 129, baseline: 726, size: 47 },
  { text: 'D', x: 954, baseline: 724, size: 47 },
  { text: 'E', x: 125.7, baseline: 1338, size: 47 },
  { text: 'F', x: 956, baseline: 1343, size: 47 },
];

export default function App() {
  return (
    <div style={{ position: 'absolute', left: 0, top: 0, width: 1954, height: 1838, background: '#ffffff', overflow: 'hidden' }}>
      {panels.map((p, i) => (
        <ChartPanel key={i} p={p} />
      ))}
      {titles.map((t, i) => (
        <div
          key={'t' + i}
          style={{
            position: 'absolute',
            left: t.center ? t.x - 400 : t.x,
            width: t.center ? 800 : undefined,
            top: t.baseline - 0.8375 * t.size,
            fontFamily: SERIF,
            fontSize: t.size,
            lineHeight: `${t.size}px`,
            color: '#000',
            textAlign: t.center ? 'center' : 'left',
            whiteSpace: 'nowrap',
          }}
        >
          {t.text}
        </div>
      ))}
    </div>
  );
}
